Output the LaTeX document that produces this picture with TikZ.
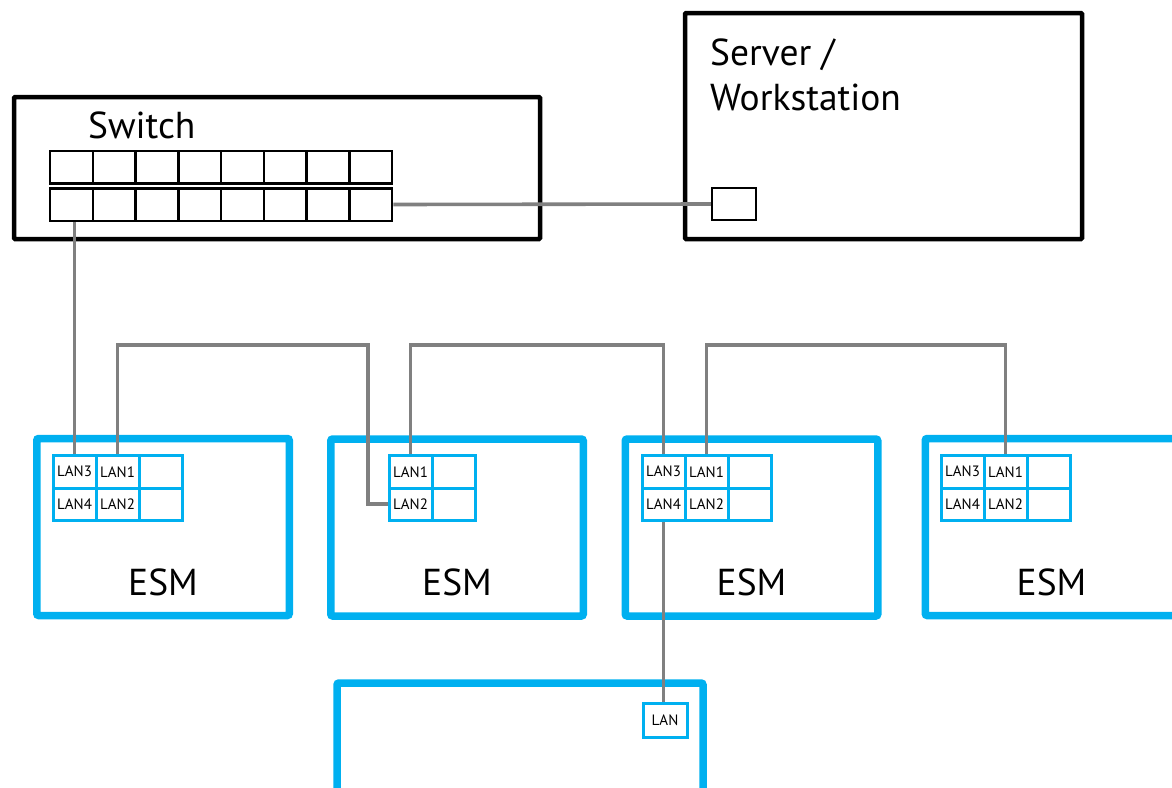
\documentclass[tikz,border=0pt]{standalone}
\usepackage{fontspec}
\setmainfont{PT Sans}
\definecolor{esmblue}{RGB}{0,176,240}
\definecolor{wiregray}{RGB}{128,128,128}
\begin{document}
\begin{tikzpicture}[x=1pt,y=-1pt,
  devbox/.style={draw=black, line width=4.5pt, inner sep=0pt, rounded corners=1pt},
  esmbox/.style={draw=esmblue, line width=7.5pt, inner sep=0pt, rounded corners=2pt, minimum width=252.5pt, minimum height=177pt},
  swport/.style={draw=black, line width=2.5pt, inner sep=0pt, minimum width=42.75pt, minimum height=32.5pt},
  lanport/.style={draw=esmblue, line width=3pt, inner sep=0pt, minimum width=43pt, minimum height=32.5pt, font=\fontsize{15}{18}\selectfont},
  wire/.style={draw=wiregray, line width=3.6pt},
  big/.style={font=\fontsize{37.5}{45}\selectfont, inner sep=0pt}]
\useasboundingbox (0,0) rectangle (1172,787);
\clip (0,0) rectangle (1172,787);

% Switch
\node[devbox, minimum width=526pt, minimum height=142pt] (sw) at (277,168) {};
\node[big, anchor=base west] (swt) at (88,138) {Switch};
\foreach \i in {1,...,8} {
  \node[swport] (swa\i) at ({50+42.75*(\i-0.5)},167) {};
  \node[swport] (swb\i) at ({50+42.75*(\i-0.5)},204.5) {};
}

% Server / Workstation
\node[devbox, minimum width=397pt, minimum height=226pt] (srv) at (883.5,126) {};
\node[big, anchor=base west] (srvt1) at (710,65) {Server /};
\node[big, anchor=base west] (srvt2) at (710,110) {Workstation};
\node[swport, minimum width=44pt, minimum height=32pt] (srvport) at (734,204) {};

% ESM boxes
\node[esmbox] (esm1) at (163,527) {};
\node[esmbox] (esm2) at (457,527.5) {};
\node[esmbox] (esm3) at (751.5,527.5) {};
\node[esmbox] (esm4) at (1051.5,527) {};
\node[big, anchor=base] (esm1t) at (163,595) {ESM};
\node[big, anchor=base] (esm2t) at (457,595) {ESM};
\node[big, anchor=base] (esm3t) at (751.5,595) {ESM};
\node[big, anchor=base] (esm4t) at (1051.5,595) {ESM};

% ESM port grids
\foreach \n/\x in {1/53,3/642,4/941} {
  \node[lanport] (e\n-l3) at (\x+21.5,471.75) {LAN3};
  \node[lanport] (e\n-l1) at (\x+64.5,471.75) {LAN1};
  \node[lanport] (e\n-x1) at (\x+107.5,471.75) {};
  \node[lanport] (e\n-l4) at (\x+21.5,504.25) {LAN4};
  \node[lanport] (e\n-l2) at (\x+64.5,504.25) {LAN2};
  \node[lanport] (e\n-x2) at (\x+107.5,504.25) {};
}
\node[lanport] (e2-l1) at (410.5,471.75) {LAN1};
\node[lanport] (e2-x1) at (453.5,471.75) {};
\node[lanport] (e2-l2) at (410.5,504.25) {LAN2};
\node[lanport] (e2-x2) at (453.5,504.25) {};

% Bottom device
\node[esmbox, minimum width=366pt, minimum height=137pt] (dev) at (520,751.5) {};
\node[lanport, minimum width=44pt, minimum height=34pt] (dev-lan) at (665,720) {LAN};

% Wires
\coordinate (bus) at (0,345);
\coordinate (k1) at (368,345);
\draw[wire] (e1-l3.north) -- (e1-l3.north |- swb1.south);
\draw[wire] (swb8.east) -- (srvport.west);
\draw[wire] (e1-l1.north) |- (k1) |- (e2-l2.west);
\draw[wire] (e2-l1.north) -- (e2-l1.north |- bus) -| (e3-l3.north);
\draw[wire] (e3-l1.north) -- (e3-l1.north |- bus) -| (e4-l1.north);
\draw[wire] (e3-l4.south) -- (e3-l4.south |- dev-lan.north);
\end{tikzpicture}
\end{document}
